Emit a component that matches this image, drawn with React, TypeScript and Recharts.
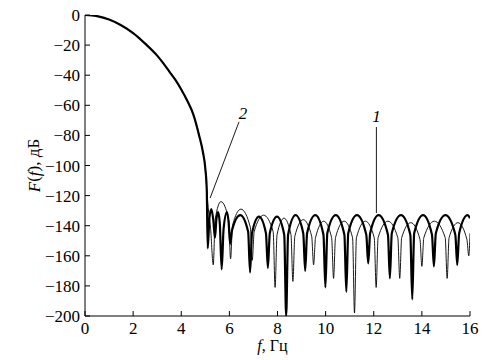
import { LineChart, Line, XAxis, YAxis, ReferenceLine, ReferenceDot, Label } from 'recharts'

// main lobe, common to both curves
const mainFreq = [0, 0.5, 1, 1.5, 2, 2.5, 3, 3.25, 3.5, 3.75, 4, 4.25, 4.5, 4.75, 4.9, 5.0, 5.06]
const mainLevel = [0, -0.8, -3, -6.8, -12, -19, -27, -32, -37.5, -43, -49.5, -57, -66, -80.5, -91, -102, -116]

// curve 1 (thin) side lobes
const freq1 = [
  5.12, 5.22, 5.33, 5.41, 5.65, 5.97, 6.05, 6.13, 6.48, 6.87, 6.95, 7.03, 7.42, 7.82, 7.9, 7.98,
  8.27, 8.56, 8.64, 8.72, 9.07, 9.42, 9.5, 9.58, 9.92, 10.25, 10.33, 10.41, 10.77, 11.12, 11.2,
  11.28, 11.65, 12.02, 12.1, 12.18, 12.59, 13.0, 13.08, 13.16, 13.54, 13.92, 14.0, 14.08, 14.52,
  14.97, 15.05, 15.13, 15.5, 15.87, 15.95, 16,
]
const level1 = [
  -128, -142, -166, -136, -124, -136, -162, -140, -129, -141, -163, -144, -133, -144, -181, -146,
  -135, -146, -177, -147, -136, -147, -166, -148, -137, -148, -175, -148, -137, -148, -198,
  -148, -137, -148, -181, -148, -137, -148, -175, -148, -138, -149, -167, -148, -137,
  -148, -175, -148, -138, -149, -160, -145,
]

// curve 2 (thick) side lobes
const freq2 = [
  5.1, 5.17, 5.25, 5.33, 5.4, 5.46, 5.53, 5.6, 5.68, 5.76, 5.9, 5.97, 6.03, 6.11, 6.45, 6.78,
  6.86, 6.94, 7.23, 7.52, 7.6, 7.68, 7.98, 8.28, 8.36, 8.44, 8.75, 9.07, 9.15, 9.23, 9.57, 9.91,
  9.99, 10.07, 10.42, 10.78, 10.86, 10.94, 11.3, 11.69, 11.77, 11.85, 12.2, 12.59, 12.67, 12.75,
  13.13, 13.52, 13.6, 13.68, 14.05, 14.42, 14.5, 14.58, 14.98, 15.39, 15.47, 15.55, 15.9, 16,
]
const level2 = [
  -155, -135, -129, -136, -148, -136, -131, -138, -169, -142, -131, -138, -152, -143, -133, -144,
  -171, -145, -134, -145, -168, -145, -134, -146, -200, -146, -133, -145, -170, -145, -133, -146,
  -181, -145, -133, -146, -184, -145, -133, -146, -165, -145, -133, -146, -175, -145,
  -133, -146, -189, -145, -133, -146, -167, -145, -133, -146, -166, -145, -133, -135,
]

const xTicks = [0, 2, 4, 6, 8, 10, 12, 14, 16]
const yTicks = [0, -20, -40, -60, -80, -100, -120, -140, -160, -180, -200]

const series1 = [...mainFreq, ...freq1].map((f, i) => ({ f, v: [...mainLevel, ...level1][i] }))
const series2 = [...mainFreq, ...freq2].map((f, i) => ({ f, v: [...mainLevel, ...level2][i] }))

const font = '"Liberation Serif", "Times New Roman", serif'
const fmt = (v: number) => String(v).replace('-', '\u2212')

const XTick = ({ x, y, payload }: any) => (
  <text x={x} y={y + 13} textAnchor="middle" fontFamily={font} fontSize={17} fill="#000">
    {fmt(payload.value)}
  </text>
)

const YTick = ({ x, y, payload }: any) => (
  <text x={x} y={y + 6} textAnchor="end" fontFamily={font} fontSize={17} fill="#000">
    {fmt(payload.value)}
  </text>
)

const NoTick = () => <g />

export default function App() {
  return (
    <div style={{ position: 'absolute', left: 0, top: 0, width: 499, height: 360, background: '#fff', fontFamily: font }}>
      <LineChart width={499} height={360} data={series2} margin={{ top: 15, right: 29, bottom: 0, left: 0 }}>
        <XAxis
          dataKey="f"
          type="number"
          domain={[0, 16]}
          ticks={xTicks}
          height={44}
          tickSize={-5}
          tickMargin={10}
          tick={<XTick />}
          stroke="#000"
          allowDataOverflow
        >
          <Label
            content={({ viewBox }: any) => (
              <text x={viewBox.x + viewBox.width / 2 - 5} y={351} textAnchor="middle" fontFamily={font} fontSize={16} fill="#000">
                <tspan fontStyle="italic">f</tspan>, Гц
              </text>
            )}
          />
        </XAxis>
        <XAxis xAxisId="top" orientation="top" type="number" domain={[0, 16]} ticks={xTicks} height={0}
          tickSize={-5} tick={<NoTick />} stroke="#000" />
        <YAxis
          type="number"
          domain={[-200, 0]}
          ticks={yTicks}
          width={85}
          tickSize={-5}
          tickMargin={10}
          tick={<YTick />}
          stroke="#000"
          allowDataOverflow
        >
          <Label
            content={({ viewBox }: any) => {
              const cx = viewBox.x + viewBox.width / 2 - 9
              const cy = viewBox.y + viewBox.height / 2
              return (
                <text x={cx} y={cy} transform={`rotate(-90, ${cx}, ${cy})`} textAnchor="middle" dominantBaseline="central"
                  fontFamily={font} fontSize={17} fill="#000">
                  <tspan fontStyle="italic">F</tspan>(<tspan fontStyle="italic">f</tspan>), дБ
                </text>
              )
            }}
          />
        </YAxis>
        <YAxis yAxisId="right" orientation="right" type="number" domain={[-200, 0]} ticks={yTicks} width={0}
          tickSize={-5} tick={<NoTick />} stroke="#000" />
        <Line data={series1} dataKey="v" type="monotone" stroke="#000" strokeWidth={0.9} dot={false} isAnimationActive={false} />
        <Line data={series2} dataKey="v" type="monotone" stroke="#000" strokeWidth={2.2} dot={false} isAnimationActive={false} />
        <ReferenceLine segment={[{ x: 6.4, y: -71 }, { x: 5.2, y: -121.6 }]} stroke="#000" strokeWidth={0.9} />
        <ReferenceLine segment={[{ x: 12.11, y: -74.4 }, { x: 12.11, y: -131.6 }]} stroke="#000" strokeWidth={0.9} />
        <ReferenceDot x={6.57} y={-65} r={0} stroke="none"
          label={{ value: '2', position: 'center', fontFamily: font, fontSize: 17, fontStyle: 'italic', fill: '#000' }} />
        <ReferenceDot x={12.11} y={-67} r={0} stroke="none"
          label={{ value: '1', position: 'center', fontFamily: font, fontSize: 17, fontStyle: 'italic', fill: '#000' }} />
      </LineChart>
    </div>
  )
}
